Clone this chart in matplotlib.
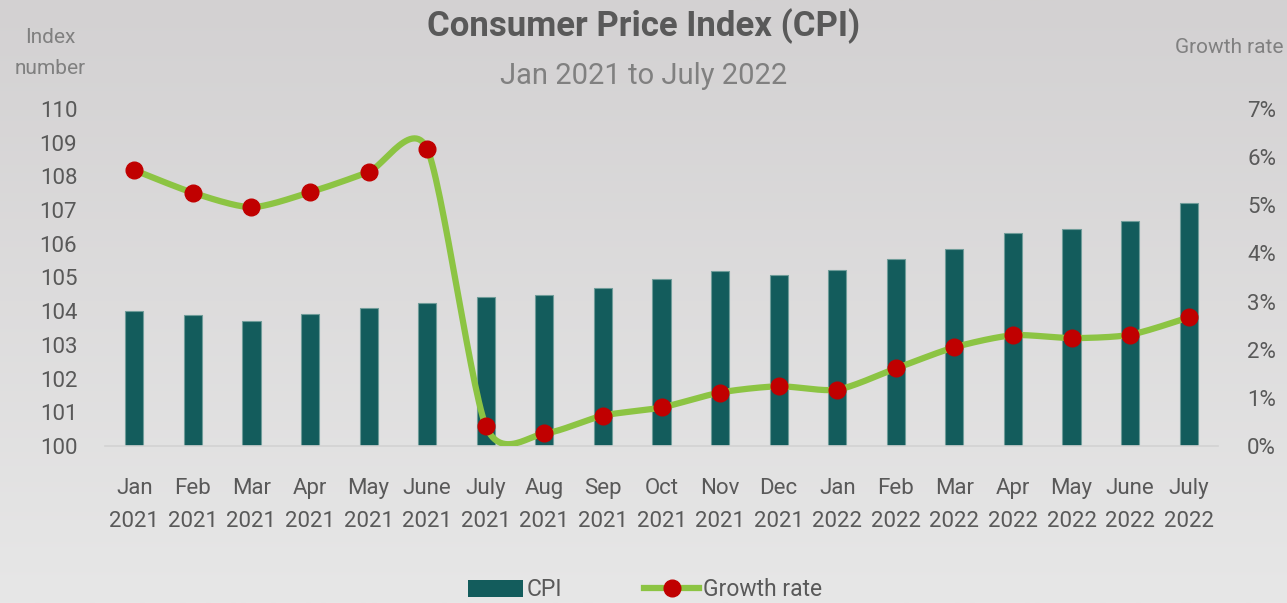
import numpy as np
import matplotlib.pyplot as plt
from matplotlib.lines import Line2D
from matplotlib.patches import Patch
from matplotlib.colors import LinearSegmentedColormap

MONTHS = ['Jan', 'Feb', 'Mar', 'Apr', 'May', 'June', 'July', 'Aug', 'Sep',
          'Oct', 'Nov', 'Dec', 'Jan', 'Feb', 'Mar', 'Apr', 'May', 'June', 'July']
YEARS = ['2021'] * 12 + ['2022'] * 7
CPI = [104.0, 103.89, 103.71, 103.91, 104.09, 104.25, 104.41, 104.49, 104.70,
       104.95, 105.18, 105.07, 105.22, 105.56, 105.85, 106.31, 106.43, 106.67, 107.21]
GROWTH = [5.73, 5.26, 4.96, 5.27, 5.69, 6.17, 0.42, 0.26, 0.63, 0.80, 1.11,
          1.24, 1.17, 1.61, 2.05, 2.30, 2.24, 2.31, 2.67]

TEAL = '#135c5c'
GREEN = '#8cc443'
RED = '#c00000'
DARK = '#595959'
GREY = '#808080'


def smooth_curve(x, y, steps=30, k=8.0):
  '''
  cardinal spline smoothing, like the excel "smoothed line"
  '''
  x = np.asarray(x, dtype=float)
  y = np.asarray(y, dtype=float)
  px = np.concatenate([[x[0]], x, [x[-1]]])
  py = np.concatenate([[y[0]], y, [y[-1]]])
  t = np.linspace(0, 1, steps)
  xs, ys = [], []
  for i in range(len(x) - 1):
    p0 = np.array([px[i + 1], py[i + 1]])
    p3 = np.array([px[i + 2], py[i + 2]])
    p1 = p0 + (p3 - np.array([px[i], py[i]])) / k
    p2 = p3 - (np.array([px[i + 3], py[i + 3]]) - p0) / k
    pts = (np.outer((1 - t) ** 3, p0) + np.outer(3 * (1 - t) ** 2 * t, p1)
           + np.outer(3 * (1 - t) * t ** 2, p2) + np.outer(t ** 3, p3))
    xs.append(pts[:, 0])
    ys.append(pts[:, 1])
  return np.concatenate(xs), np.concatenate(ys)


def plot_cpi():
  plt.rcParams['font.family'] = ['Roboto', 'DejaVu Sans']
  fig = plt.figure(figsize=(12.87, 6.03), dpi=100)

  # gradient background
  bg = fig.add_axes([0, 0, 1, 1], zorder=-10)
  grad = np.linspace(0, 1, 256).reshape(-1, 1)
  bg.imshow(grad, aspect='auto', extent=[0, 1, 0, 1],
            cmap=LinearSegmentedColormap.from_list('bg', ['#d3d1d2', '#e7e7e7']))
  bg.axis('off')

  ax = fig.add_axes([0.0816, 0.2604, 0.8648, 0.5589])
  ax.set_facecolor('none')
  x = np.arange(len(CPI))
  ax.bar(x, np.array(CPI) - 100, bottom=100, width=0.31, color=TEAL,
         edgecolor='#6f9c99', linewidth=0.8, zorder=2)
  ax.set_xlim(-0.5, len(CPI) - 0.5)
  ax.set_ylim(100, 110)
  ax.set_yticks(range(100, 111))
  ax.set_xticks(x)
  ax.set_xticklabels([f'{m}\n{y}' for m, y in zip(MONTHS, YEARS)], linespacing=1.75)
  ax.tick_params(axis='both', length=0, labelsize=16, colors=DARK)
  ax.tick_params(axis='y', pad=20)
  ax.tick_params(axis='x', pad=23)
  for s in ['top', 'left', 'right']:
    ax.spines[s].set_visible(False)
  ax.spines['bottom'].set_color('#d2d2d2')
  ax.spines['bottom'].set_linewidth(1.2)

  ax2 = ax.twinx()
  sx, sy = smooth_curve(x, GROWTH)
  ax2.plot(sx, sy, color=GREEN, linewidth=4.5, solid_capstyle='round', zorder=3)
  ax2.plot(x, GROWTH, 'o', color=RED, markersize=12, zorder=4)
  ax2.set_ylim(0, 7)
  ax2.set_yticks(range(0, 8))
  ax2.set_yticklabels([f'{i}%' for i in range(0, 8)])
  ax2.tick_params(axis='y', length=0, labelsize=16, colors=DARK, pad=21)
  for s in ax2.spines.values():
    s.set_visible(False)

  # titles
  fig.text(0.5, 0.957, 'Consumer Price Index (CPI)', ha='center', va='center',
           fontsize=25, fontweight='bold', color=DARK)
  fig.text(0.5, 0.874, 'Jan 2021 to July 2022', ha='center', va='center',
           fontsize=21, color=GREY)
  fig.text(0.039, 0.912, 'Index\nnumber', ha='center', va='center',
           fontsize=15, color=GREY, linespacing=1.85)
  fig.text(0.997, 0.922, 'Growth rate', ha='right', va='center',
           fontsize=15, color=GREY)

  handles = [Patch(facecolor=TEAL, edgecolor='none'),
             Line2D([0], [0], color=GREEN, linewidth=4.5, marker='o',
                    markersize=12, markerfacecolor=RED, markeredgecolor=RED)]
  fig.legend(handles, ['CPI', 'Growth rate'], loc='center', bbox_to_anchor=(0.501, 0.022),
             ncol=2, frameon=False, fontsize=16.5, labelcolor=DARK,
             handlelength=2.4, handleheight=0.75, handletextpad=0.15, columnspacing=3.6)

  fig.savefig('out.png', dpi=100)


def main():
  plot_cpi()


if __name__ == "__main__":
  main()
